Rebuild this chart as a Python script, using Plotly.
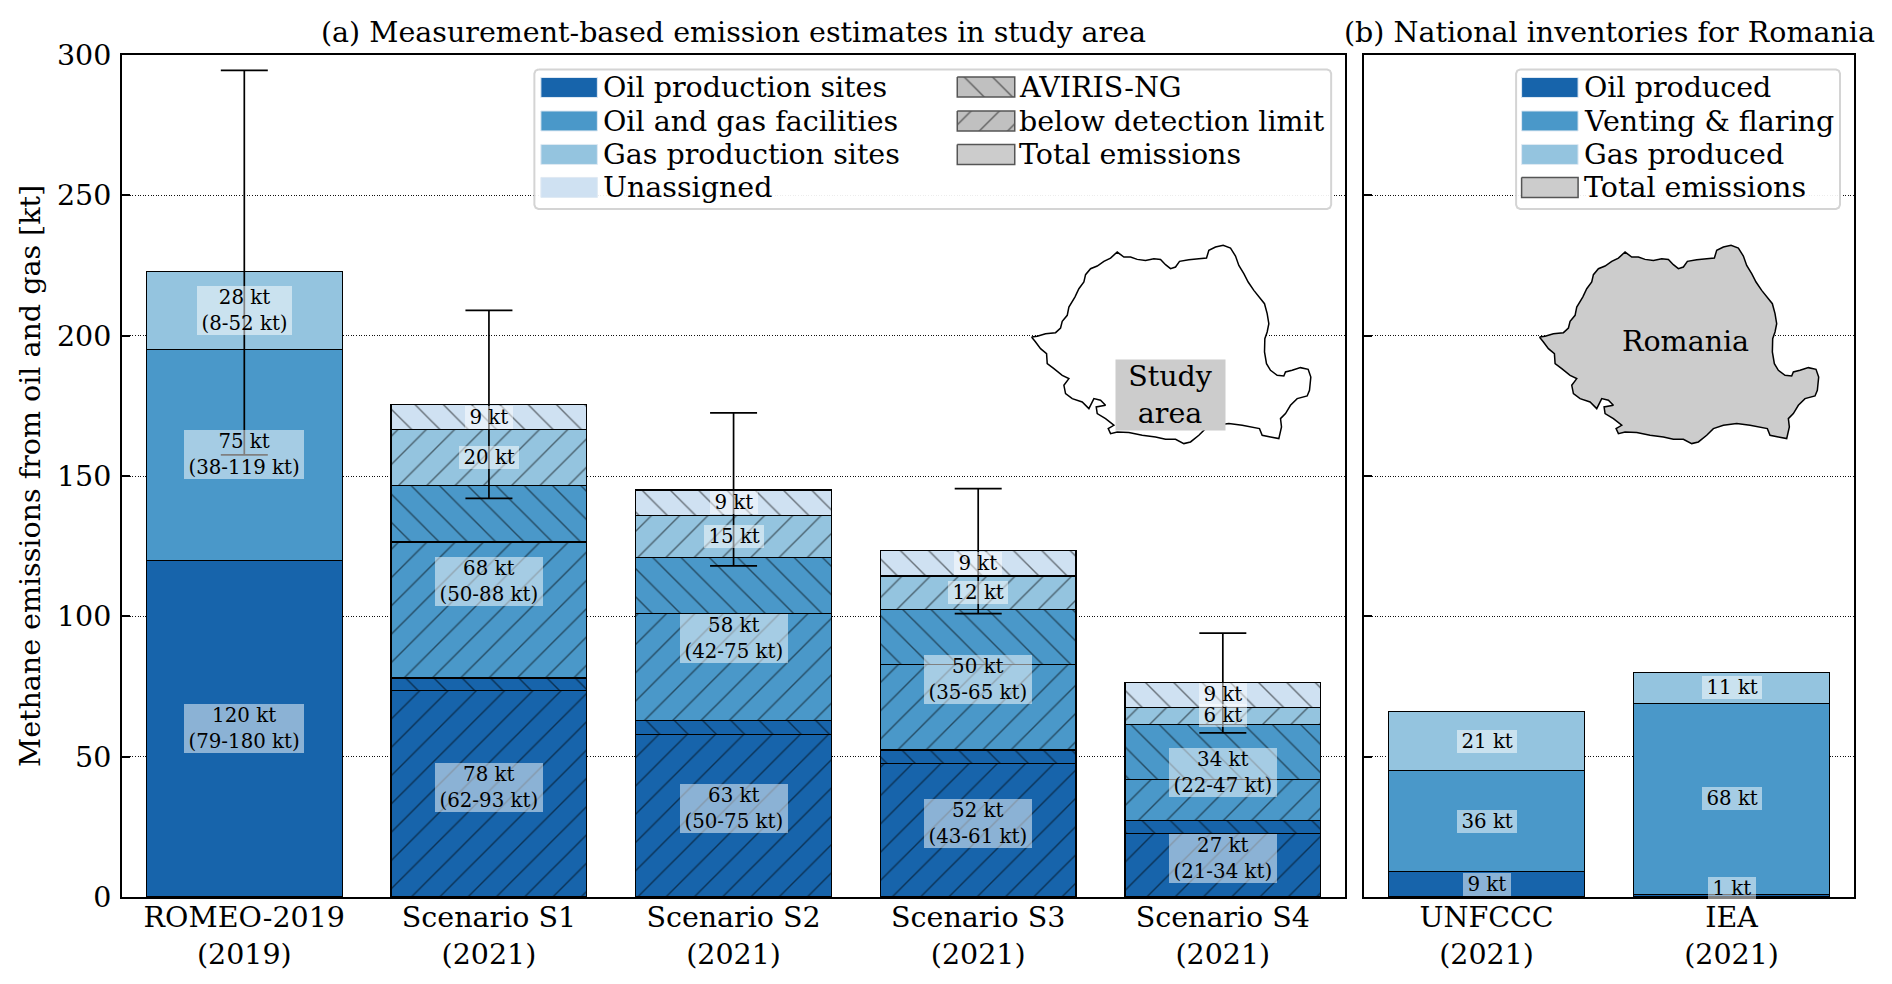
import plotly.graph_objects as go

# ---------- data ----------
names_a = ["ROMEO-2019", "Scenario S1", "Scenario S2", "Scenario S3", "Scenario S4"]
years_a = ["(2019)", "(2021)", "(2021)", "(2021)", "(2021)"]
names_b = ["UNFCCC", "IEA"]
years_b = ["(2021)", "(2021)"]

oil_below = [120, 73.5, 58, 47.5, 22.5]
oil_aviris = [None, 4.5, 5, 4.9, 4.9]
fac_below = [75, 48.5, 38, 30.5, 14.6]
fac_aviris = [None, 20, 20, 19.5, 19.5]
gas_part = [28, 20, 15, 12, 6]
unassigned = [None, 9, 9, 9, 9]

err_high = [294.5, 209, 172.5, 145.5, 94]
err_low = [157.5, 142, 118, 101, 58.5]

inv_oil = [9, 1]
inv_vent = [36, 68]
inv_gas = [21, 11]

labels_a = [
    [("120 kt", "(79-180 kt)"), ("75 kt", "(38-119 kt)"), ("28 kt", "(8-52 kt)"), None],
    [("78 kt", "(62-93 kt)"), ("68 kt", "(50-88 kt)"), ("20 kt",), ("9 kt",)],
    [("63 kt", "(50-75 kt)"), ("58 kt", "(42-75 kt)"), ("15 kt",), ("9 kt",)],
    [("52 kt", "(43-61 kt)"), ("50 kt", "(35-65 kt)"), ("12 kt",), ("9 kt",)],
    [("27 kt", "(21-34 kt)"), ("34 kt", "(22-47 kt)"), ("6 kt",), ("9 kt",)],
]
labels_b = [[("9 kt",), ("36 kt",), ("21 kt",)], [("1 kt",), ("68 kt",), ("11 kt",)]]

legend_a1 = ["Oil production sites", "Oil and gas facilities", "Gas production sites", "Unassigned"]
legend_a2 = ["AVIRIS-NG", "below detection limit", "Total emissions"]
legend_b = ["Oil produced", "Venting & flaring", "Gas produced", "Total emissions"]

# Country outline (horizontal, vertical units of the tracing)
romania_u = [28,45,70,100,115,120,135,140,158,170,185,190,205,225,245,265,285,305,325,345,370,395,415,430,445,460,472,500,530,553,560,580,603,625,640,650,665,678,695,710,727,735,740,735,728,727,733,745,765,785,790,810,835,858,866,862,855,825,805,790,775,778,770,745,720,712,690,660,620,580,550,530,505,485,460,430,400,360,320,285,265,258,275,250,225,222,250,235,215,200,180,150,130,125,140,120,95,75,73,55,40,28]
romania_v = [305,303,295,292,278,258,240,215,185,160,140,118,100,92,78,68,50,65,65,72,75,70,72,88,100,95,78,73,70,68,45,35,30,38,62,90,115,140,165,185,205,235,265,290,310,350,385,405,420,422,410,405,397,402,425,465,482,490,510,535,550,575,610,605,600,580,575,570,565,570,580,600,620,625,612,612,605,600,592,590,595,580,570,550,535,515,510,495,490,520,500,490,475,450,430,420,400,385,355,340,320,305]

# ---------- styles ----------
C_OIL, C_FAC, C_GAS, C_UNA = "#1764ab", "#4a98c9", "#94c4df", "#cfe1f2"
GREY = "#cccccc"
FONT = "DejaVu Serif"
TXT, LAB = 28.5, 19.8
L, R, T, B = 121.5, 1854.0, 54.5, 897.0
W, H = 1892, 984
CHAR = {" ": .318, "(": .39, ")": .39, "-": .338, "k": .65, "t": .402}
HATCH = dict(fgcolor="black", size=20, solidity=0.07)


def px(x):
    return (x - L) / (R - L)


def py(y):
    return (B - y) / (B - T)


def text_w(s):
    return sum(CHAR.get(c, .636) for c in s) * LAB


fig = go.Figure()


def stacked(cats, vals, color, shapes, ax):
    fig.add_trace(go.Bar(
        x=cats, y=vals, width=0.8, xaxis=ax[0], yaxis=ax[1], showlegend=False, hoverinfo="skip",
        marker=dict(color=color, line=dict(color="black", width=1.2),
                    pattern=dict(shape=shapes, **HATCH)),
    ))


s_a = ["", "/", "/", "/", "/"]
s_b = ["", "\\", "\\", "\\", "\\"]
A = ("x", "y")
stacked(names_a, oil_below, C_OIL, s_a, A)
stacked(names_a, oil_aviris, C_OIL, s_b, A)
stacked(names_a, fac_below, C_FAC, s_a, A)
stacked(names_a, fac_aviris, C_FAC, s_b, A)
stacked(names_a, gas_part, C_GAS, s_a, A)
stacked(names_a, unassigned, C_UNA, s_b, A)
Bx = ("x2", "y2")
none2 = ["", ""]
stacked(names_b, inv_oil, C_OIL, none2, Bx)
stacked(names_b, inv_vent, C_FAC, none2, Bx)
stacked(names_b, inv_gas, C_GAS, none2, Bx)

# error bars
fig.add_trace(go.Scatter(
    x=names_a, y=err_low, mode="markers", marker=dict(size=1, opacity=0), showlegend=False, hoverinfo="skip",
    error_y=dict(type="data", symmetric=False, array=[h - l for h, l in zip(err_high, err_low)],
                 arrayminus=[0] * 5, color="black", thickness=1.7, width=23.5),
))


# ---------- overlay (pixel space) for the map and the legends ----------
def overlay(xs, ys, **kw):
    fig.add_trace(go.Scatter(x=xs, y=ys, xaxis="x3", yaxis="y3", mode="lines", showlegend=False,
                             hoverinfo="skip", fill="toself", **kw))


overlay([1530 - 508 + u / 3 for u in romania_u], [235 + v / 3 for v in romania_v],
        line=dict(color="black", width=1.5), fillcolor="white")
overlay([1530 + u / 3 for u in romania_u], [235 + v / 3 for v in romania_v],
        line=dict(color="black", width=1.5), fillcolor=GREY)


def rrect(x0, y0, x1, y1, r=4):
    xs = [x0 + r, x1 - r, x1 - r * .3, x1, x1, x1 - r * .3, x1 - r, x0 + r, x0 + r * .3, x0, x0, x0 + r * .3, x0 + r]
    ys = [y0, y0, y0 + r * .3, y0 + r, y1 - r, y1 - r * .3, y1, y1, y1 - r * .3, y1 - r, y0 + r, y0 + r * .3, y0]
    return xs, ys


for box in [(534, 69, 1331, 208.5), (1516, 69, 1840, 208.5)]:
    xs, ys = rrect(*box)
    overlay(xs, ys, line=dict(color="#d4d4d4", width=2), fillcolor="rgba(255,255,255,0.92)")


def swatch(x0, x1, y0, color, edge=None, ew=1.5, pattern=None):
    kw = dict(line=dict(color=edge or color, width=ew), fillcolor=color)
    if pattern:
        kw["fillpattern"] = dict(shape=pattern, **HATCH)
    overlay([x0, x1, x1, x0, x0], [y0, y0, y0 + 20, y0 + 20, y0], **kw)


rows = [77, 110.5, 144, 177]
for y, c in zip(rows, [C_OIL, C_FAC, C_GAS, C_UNA]):
    swatch(540.5, 597, y, c, edge="#dfe9f3", ew=1)
    swatch(1521.5, 1578, y, c, edge="#dfe9f3", ew=1)
swatch(957, 1014.5, 76.5, "#c0c0c0", edge="#555555", pattern="\\")
swatch(957, 1014.5, 110.5, "#c0c0c0", edge="#555555", pattern="/")
swatch(957, 1014.5, 144, GREY, edge="#555555")
swatch(1521.5, 1578, 177, GREY, edge="#555555")

# ---------- annotations ----------
ann = []


def label(ax, cat, y, lines):
    ann.append(dict(xref=ax[0], yref=ax[1], x=cat, y=y, text="<br>".join(lines), showarrow=False,
                    width=max(text_w(s) for s in lines) + 8,
                    font=dict(family=FONT, size=LAB, color="black"), bgcolor="rgba(255,255,255,0.5)",
                    borderpad=0, borderwidth=0, xanchor="center", yanchor="middle"))


for i, cat in enumerate(names_a):
    seq = [oil_below[i], oil_aviris[i], fac_below[i], fac_aviris[i], gas_part[i], unassigned[i]]
    seq = [v or 0 for v in seq]
    tops = [sum(seq[:2]), sum(seq[:4]), sum(seq[:5]), sum(seq[:6])]
    bots = [0] + tops[:-1]
    for t, bo, lines in zip(tops, bots, labels_a[i]):
        if lines:
            label(A, cat, (t + bo) / 2, lines)

for i, cat in enumerate(names_b):
    seq = [inv_oil[i], inv_vent[i], inv_gas[i]]
    base = 0
    for v, lines in zip(seq, labels_b[i]):
        label(Bx, cat, base + v / 2 if v > 2 else 3.2, lines)
        base += v


def free(x, y, text, size=TXT, xanchor="left", **kw):
    ann.append(dict(xref="paper", yref="paper", x=px(x), y=py(y), text=text, showarrow=False,
                    font=dict(family=FONT, size=size, color="black"),
                    xanchor=xanchor, yanchor="middle", **kw))


free(733, 32, "(a) Measurement-based emission estimates in study area", xanchor="center")
free(1609, 32, "(b) National inventories for Romania", xanchor="center")
free(1170.5, 394.5, "Study<br>area", xanchor="center", bgcolor=GREY, borderpad=0, width=109)
free(1685, 341, "Romania", xanchor="center")
for y, t in zip(rows, legend_a1):
    free(600.5, y + 10.5, t)
for y, t in zip(rows[:3], legend_a2):
    free(1017, y + 10.5, t)
for y, t in zip(rows, legend_b):
    free(1582, y + 10.5, t)

DOTS = "1px,1.6px"
common_y = dict(range=[0, 300], tickvals=[0, 50, 100, 150, 200, 250, 300], ticks="inside", ticklen=8, tickwidth=1.5,
                tickcolor="black", showline=True, linecolor="black", linewidth=2, mirror=True,
                showgrid=True, gridcolor="#111111", griddash=DOTS, gridwidth=1, zeroline=False)
common_x = dict(type="category", ticks="", showline=True, linecolor="black", linewidth=2, mirror=True,
                ticklabelstandoff=-6, showgrid=False, zeroline=False,
                tickfont=dict(family=FONT, size=TXT, color="black"))

fig.update_layout(
    width=W, height=H, autosize=False, barmode="stack", bargap=0.2,
    margin=dict(l=L, r=W - R, t=T, b=H - B, pad=0),
    paper_bgcolor="white", plot_bgcolor="rgba(0,0,0,0)",
    font=dict(family=FONT, color="black"),
    xaxis=dict(domain=[0, px(1345)], anchor="y", range=[-0.5, 4.5], tickvals=names_a,
               ticktext=[f"{n}<br>{y}" for n, y in zip(names_a, years_a)], **common_x),
    xaxis2=dict(domain=[px(1364), 1], anchor="y2", range=[-0.5, 1.5], tickvals=names_b,
                ticktext=[f"{n}<br>{y}" for n, y in zip(names_b, years_b)], **common_x),
    yaxis=dict(domain=[0, 1], anchor="x", tickfont=dict(family=FONT, size=TXT, color="black"), ticklabelstandoff=3,
               title=dict(text="Methane emissions from oil and gas [kt]", standoff=8,
                          font=dict(family=FONT, size=TXT, color="black")), **common_y),
    yaxis2=dict(domain=[0, 1], anchor="x2", matches="y", showticklabels=False, **common_y),
    xaxis3=dict(domain=[0, 1], anchor="y3", range=[L, R], visible=False, fixedrange=True),
    yaxis3=dict(domain=[0, 1], anchor="x3", range=[B, T], visible=False, fixedrange=True),
    annotations=ann,
)

fig.write_html("out.html", post_script="document.body.style.margin='0';document.body.style.overflow='hidden';",
               config=dict(displayModeBar=False))
